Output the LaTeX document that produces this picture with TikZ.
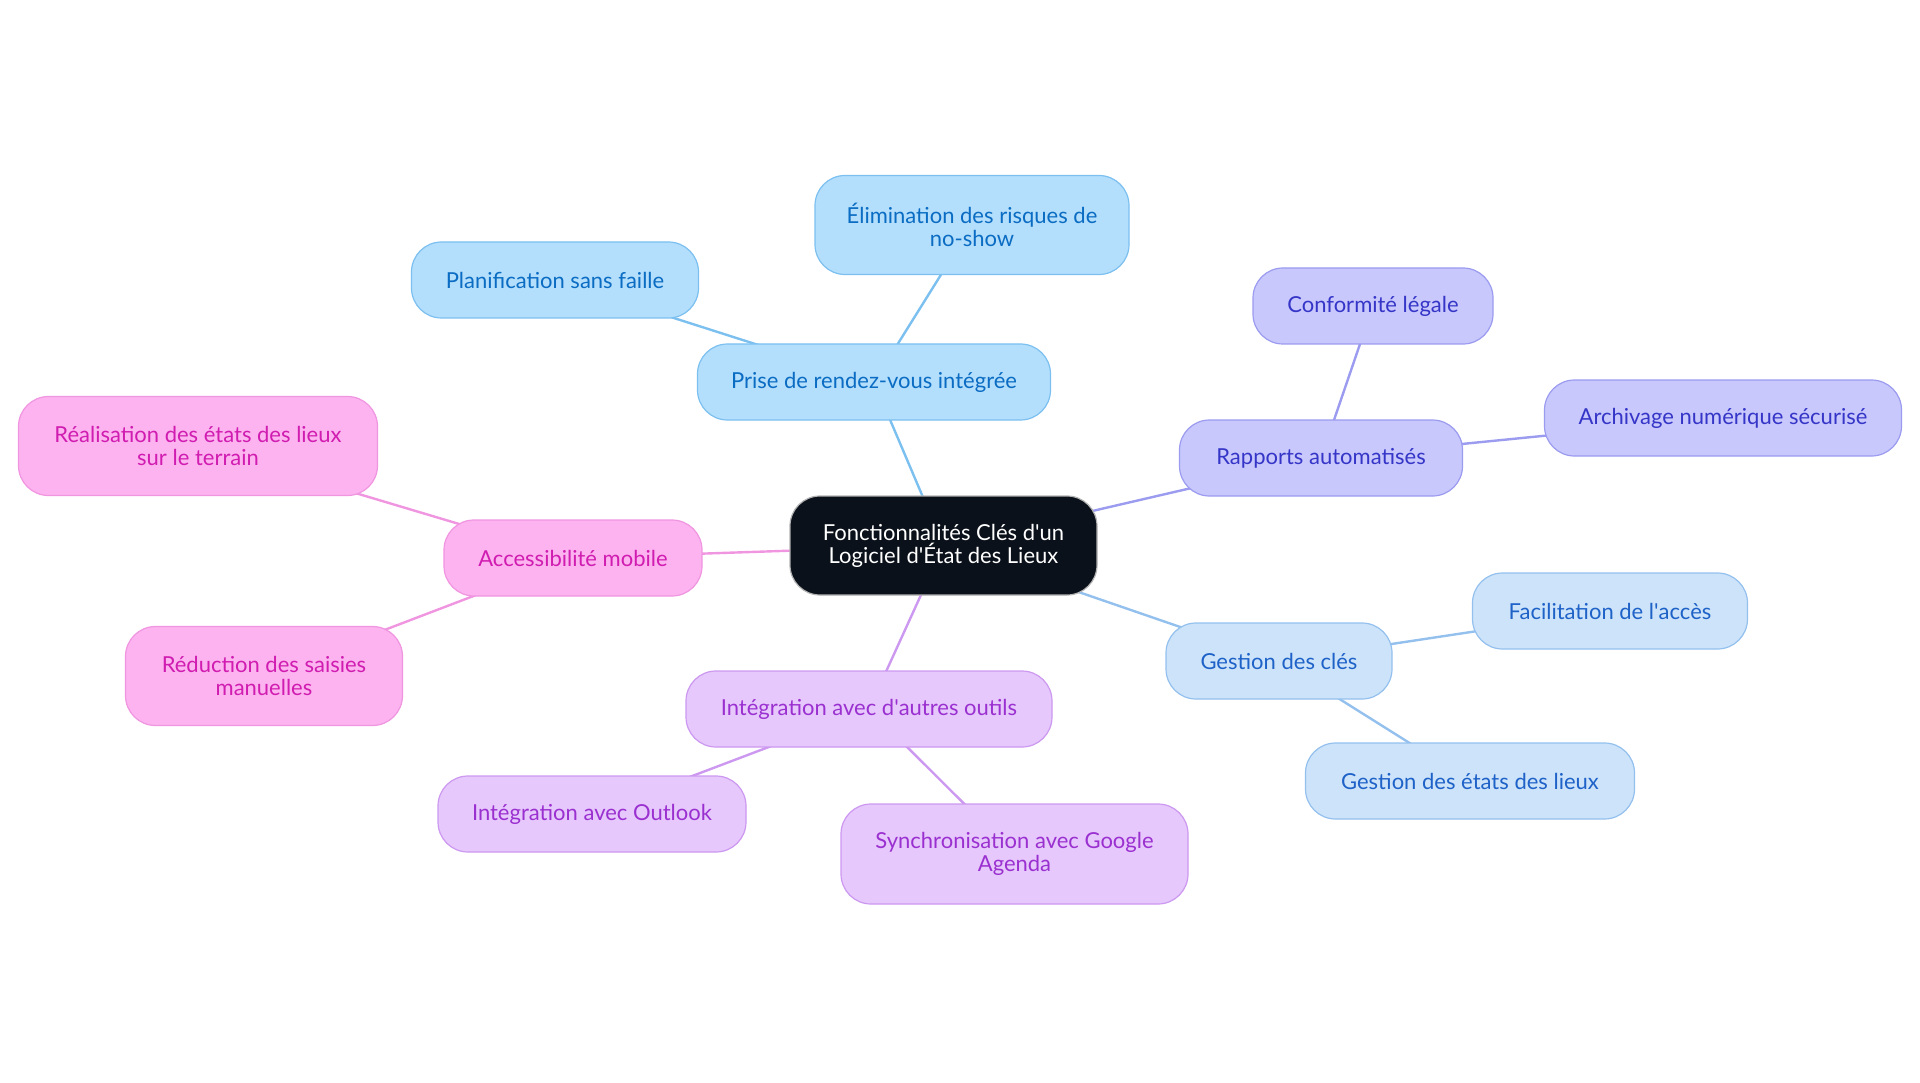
\documentclass[tikz,border=0pt]{standalone}
\usepackage{fontspec}
\setmainfont{Lato}
\usetikzlibrary{backgrounds}
\definecolor{cdark}{HTML}{0B111B}
\definecolor{bfill}{HTML}{B3DEFC}\definecolor{bline}{HTML}{7CC0F0}\definecolor{btext}{HTML}{0A6CC2}
\definecolor{ifill}{HTML}{C8C8FC}\definecolor{iline}{HTML}{9B9BF0}\definecolor{itext}{HTML}{3535C8}
\definecolor{pfill}{HTML}{FCB3F0}\definecolor{pline}{HTML}{F095E0}\definecolor{ptext}{HTML}{D01CB0}
\definecolor{vfill}{HTML}{E6C8FC}\definecolor{vline}{HTML}{CC98F0}\definecolor{vtext}{HTML}{9B30D0}
\definecolor{lfill}{HTML}{CCE3FA}\definecolor{lline}{HTML}{94C0EE}\definecolor{ltext}{HTML}{1E62C8}
\begin{document}
\begin{tikzpicture}[x=1pt,y=-1pt,
  box/.style={rounded corners=30pt, align=center, font=\fontsize{22}{23}\selectfont, line width=1.2pt, inner sep=0pt, anchor=center},
  bbox/.style={box, fill=bfill, draw=bline, text=btext},
  ibox/.style={box, fill=ifill, draw=iline, text=itext},
  pbox/.style={box, fill=pfill, draw=pline, text=ptext},
  vbox/.style={box, fill=vfill, draw=vline, text=vtext},
  lbox/.style={box, fill=lfill, draw=lline, text=ltext},
  cbox/.style={box, fill=cdark, draw=gray!60, text=white},
  link/.style={line width=2.4pt}]
\useasboundingbox (0,0) rectangle (1920,1083);
\node[cbox, minimum width=307pt, minimum height=99pt] (c) at (943.5,545.5) {Fonctionnalités Clés d\textquotesingle un\\Logiciel d\textquotesingle État des Lieux};
\node[bbox, minimum width=353pt, minimum height=76pt] (prise) at (874,382) {Prise de rendez-vous intégrée};
\node[bbox, minimum width=314pt, minimum height=99pt] (elim) at (972,225) {Élimination des risques de\\no-show};
\node[bbox, minimum width=287pt, minimum height=76pt] (plan) at (555,280) {Planification sans faille};
\node[ibox, minimum width=240pt, minimum height=76pt] (conf) at (1373,306) {Conformité légale};
\node[ibox, minimum width=283pt, minimum height=76pt] (rapp) at (1321,458) {Rapports automatisés};
\node[ibox, minimum width=357pt, minimum height=76pt] (arch) at (1723,418) {Archivage numérique sécurisé};
\node[pbox, minimum width=258pt, minimum height=76pt] (acc) at (573,558) {Accessibilité mobile};
\node[pbox, minimum width=359pt, minimum height=99pt] (real) at (198,446) {Réalisation des états des lieux\\sur le terrain};
\node[pbox, minimum width=277pt, minimum height=99pt] (redu) at (264,676) {Réduction des saisies\\manuelles};
\node[vbox, minimum width=366pt, minimum height=76pt] (integ) at (869,709) {Intégration avec d\textquotesingle autres outils};
\node[vbox, minimum width=308pt, minimum height=76pt] (outl) at (592,814) {Intégration avec Outlook};
\node[vbox, minimum width=347pt, minimum height=100pt] (sync) at (1014.5,854) {Synchronisation avec Google\\Agenda};
\node[lbox, minimum width=226pt, minimum height=76pt] (cles) at (1279,661) {Gestion des clés};
\node[lbox, minimum width=275pt, minimum height=76pt] (faci) at (1610,611) {Facilitation de l\textquotesingle accès};
\node[lbox, minimum width=329pt, minimum height=76pt] (etats) at (1470,781) {Gestion des états des lieux};
\begin{scope}[on background layer]
\draw[link, bline] (c.center) -- (prise.center);
\draw[link, bline] (prise.center) -- (elim.center);
\draw[link, bline] (prise.center) -- (plan.center);
\draw[link, iline] (c.center) -- (rapp.center);
\draw[link, iline] (rapp.center) -- (conf.center);
\draw[link, iline] (rapp.center) -- (arch.center);
\draw[link, pline] (c.center) -- (acc.center);
\draw[link, pline] (acc.center) -- (real.center);
\draw[link, pline] (acc.center) -- (redu.center);
\draw[link, vline] (c.center) -- (integ.center);
\draw[link, vline] (integ.center) -- (outl.center);
\draw[link, vline] (integ.center) -- (sync.center);
\draw[link, lline] (c.center) -- (cles.center);
\draw[link, lline] (cles.center) -- (faci.center);
\draw[link, lline] (cles.center) -- (etats.center);
\end{scope}
\end{tikzpicture}
\end{document}
